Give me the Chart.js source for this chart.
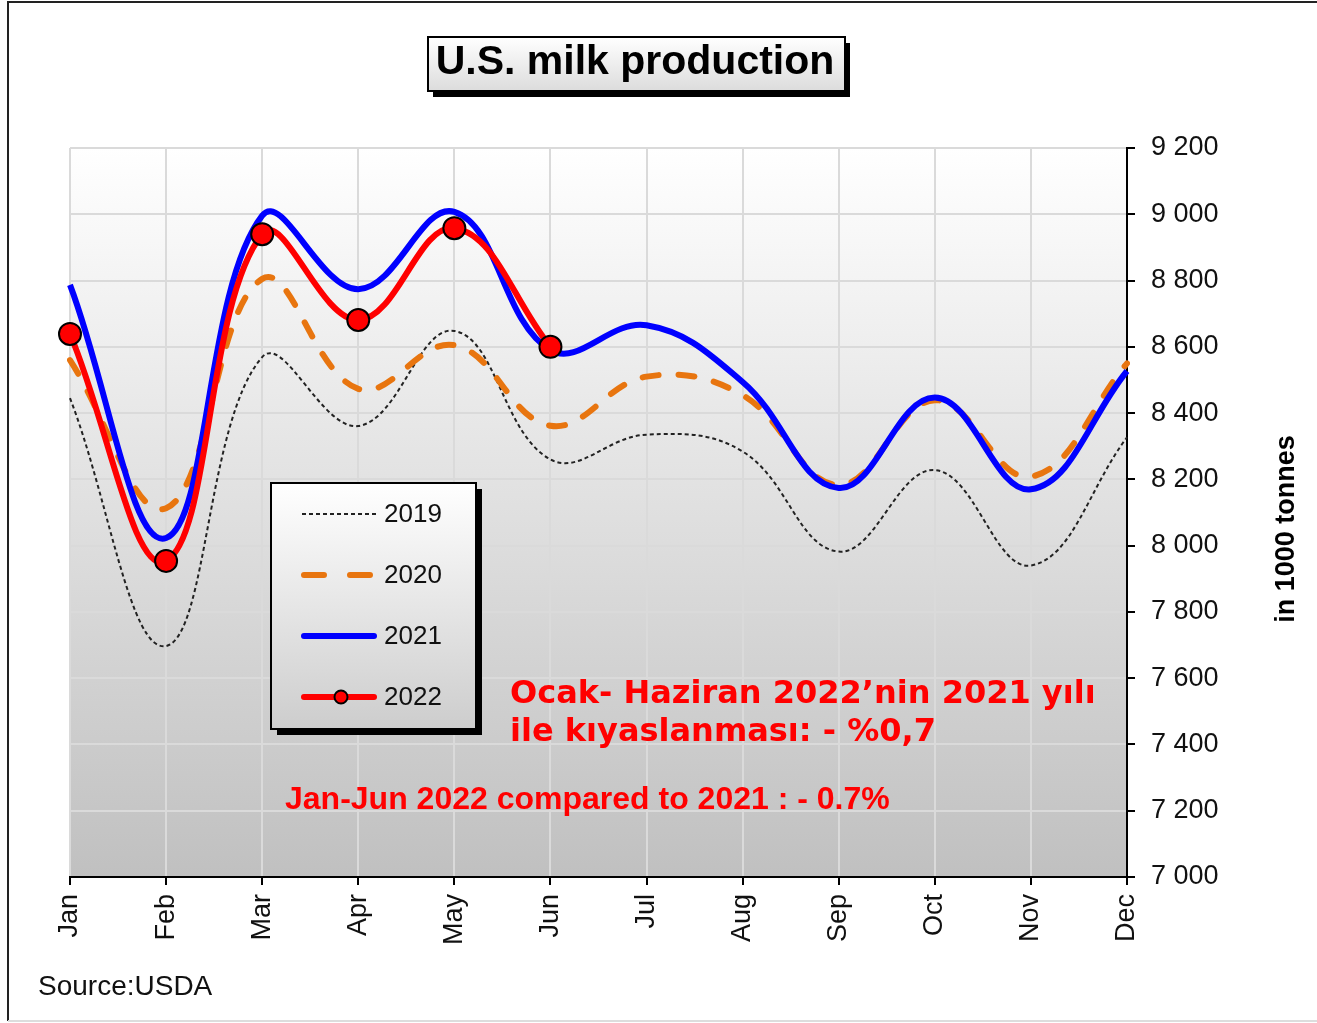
<!DOCTYPE html>
<html>
<head>
<meta charset="utf-8">
<script src="https://cdn.jsdelivr.net/npm/chart.js@4"></script>
<style>
  body { margin: 0; background: #fff; }
  canvas { display: block; }
</style>
</head>
<body>
<canvas id="milkChart" width="1317" height="1023"></canvas>
<script>
// values (1000 tonnes)
const months = ['Jan', 'Feb', 'Mar', 'Apr', 'May', 'Jun', 'Jul', 'Aug', 'Sep', 'Oct', 'Nov', 'Dec'];
const milk2019 = [8445, 7697, 8569, 8361, 8648, 8260, 8335, 8284, 7982, 8228, 7940, 8327];
const milk2020 = [8560, 8113, 8805, 8473, 8605, 8362, 8510, 8454, 8183, 8439, 8208, 8550];
const milk2021 = [8787, 8023, 8996, 8774, 9007, 8590, 8665, 8494, 8174, 8447, 8170, 8527];
const milk2022 = [8639, 7954, 8940, 8681, 8958, 8600];
const yTicks = [7000, 7200, 7400, 7600, 7800, 8000, 8200, 8400, 8600, 8800, 9000, 9200];

const FONT = '"Liberation Sans", Arial, sans-serif';

function spaced(v) {
  return String(v).replace(/\B(?=(\d{3})+(?!\d))/g, ' ');
}

const milkDecor = {
  id: 'milkDecor',
  beforeDraw(chart) {
    const ctx = chart.ctx;
    const a = chart.chartArea;
    ctx.save();
    ctx.fillStyle = '#fff';
    ctx.fillRect(0, 0, chart.width, chart.height);
    const g = ctx.createLinearGradient(0, a.top, 0, a.bottom);
    g.addColorStop(0, '#ffffff');
    g.addColorStop(1, '#c0c0c0');
    ctx.fillStyle = g;
    ctx.fillRect(a.left, a.top, a.right - a.left, a.bottom - a.top);
    ctx.restore();
  },
  afterDraw(chart) {
    const ctx = chart.ctx;
    ctx.save();

    // outer frame
    ctx.strokeStyle = '#222';
    ctx.lineWidth = 2;
    ctx.beginPath();
    ctx.moveTo(8, 1021); ctx.lineTo(8, 2); ctx.lineTo(1317, 2);
    ctx.stroke();
    ctx.strokeStyle = '#ddd';
    ctx.beginPath();
    ctx.moveTo(8, 1021); ctx.lineTo(1317, 1021);
    ctx.stroke();

    // title box
    ctx.fillStyle = '#000';
    ctx.fillRect(433, 43, 417, 54);
    let g = ctx.createLinearGradient(0, 37, 0, 91);
    g.addColorStop(0, '#ffffff');
    g.addColorStop(1, '#dcdcdc');
    ctx.fillStyle = g;
    ctx.fillRect(428, 37, 417, 54);
    ctx.strokeStyle = '#000';
    ctx.lineWidth = 2;
    ctx.strokeRect(428, 37, 417, 54);
    ctx.fillStyle = '#000';
    ctx.font = 'bold 41px ' + FONT;
    ctx.textAlign = 'center';
    ctx.textBaseline = 'middle';
    ctx.fillText('U.S. milk production', 635, 63);

    // y axis title, reads bottom to top
    ctx.save();
    ctx.translate(1287, 529);
    ctx.rotate(-Math.PI / 2);
    ctx.font = 'bold 27px ' + FONT;
    ctx.fillText('in 1000 tonnes', 0, 0);
    ctx.restore();

    // legend box
    ctx.fillStyle = '#000';
    ctx.fillRect(277, 489, 205, 246);
    g = ctx.createLinearGradient(0, 483, 0, 729);
    g.addColorStop(0, '#ffffff');
    g.addColorStop(1, '#cdcdcd');
    ctx.fillStyle = g;
    ctx.fillRect(271, 483, 205, 246);
    ctx.strokeStyle = '#000';
    ctx.lineWidth = 2;
    ctx.strokeRect(271, 483, 205, 246);

    const rows = [
      { label: '2019', y: 514, color: '#222', width: 2, dash: [4, 3], cap: 'butt' },
      { label: '2020', y: 575, color: '#e8750f', width: 6, dash: [20, 26], cap: 'round' },
      { label: '2021', y: 636, color: '#0000ff', width: 6, dash: [], cap: 'round' },
      { label: '2022', y: 697, color: '#ff0000', width: 6, dash: [], cap: 'round', dot: true }
    ];
    rows.forEach(r => {
      ctx.strokeStyle = r.color;
      ctx.lineWidth = r.width;
      ctx.lineCap = r.cap;
      ctx.setLineDash(r.dash);
      ctx.beginPath();
      ctx.moveTo(r.cap === 'round' ? 304 : 302, r.y);
      ctx.lineTo(r.cap === 'round' ? 374 : 376, r.y);
      ctx.stroke();
      ctx.setLineDash([]);
      if (r.dot) {
        ctx.beginPath();
        ctx.arc(341, r.y, 6.5, 0, Math.PI * 2);
        ctx.fillStyle = '#ff0000';
        ctx.fill();
        ctx.lineWidth = 2;
        ctx.strokeStyle = '#000';
        ctx.stroke();
      }
      ctx.fillStyle = '#111';
      ctx.font = '26px ' + FONT;
      ctx.textAlign = 'left';
      ctx.textBaseline = 'middle';
      ctx.fillText(r.label, 384, r.y + 1);
    });

    // notes
    ctx.fillStyle = '#ff0000';
    ctx.textAlign = 'left';
    ctx.textBaseline = 'middle';
    ctx.font = 'bold 32px "DejaVu Sans", Verdana, sans-serif';
    ctx.fillText('Ocak- Haziran 2022\u2019nin 2021 y\u0131l\u0131', 510, 695);
    ctx.fillText('ile k\u0131yaslanmas\u0131: - %0,7', 510, 733);
    ctx.font = 'bold 32px ' + FONT;
    ctx.fillText('Jan-Jun 2022 compared to 2021 : - 0.7%', 285, 800);

    // source
    ctx.fillStyle = '#111';
    ctx.font = '28px ' + FONT;
    ctx.fillText('Source:USDA', 38, 987);

    ctx.restore();
  }
};

const ctx_milk = document.getElementById('milkChart');

new Chart(ctx_milk, {
  type: 'line',
  data: {
    labels: months,
    datasets: [
      {
        label: '2019',
        data: milk2019,
        borderColor: '#222',
        borderWidth: 2,
        borderDash: [4, 3],
        pointRadius: 0,
        tension: 0.4,
        fill: false,
        order: 4
      },
      {
        label: '2020',
        data: milk2020,
        borderColor: '#e8750f',
        borderWidth: 6,
        borderDash: [16, 20],
        borderCapStyle: 'round',
        pointRadius: 0,
        tension: 0.4,
        fill: false,
        order: 3
      },
      {
        label: '2021',
        data: milk2021,
        borderColor: '#0000ff',
        borderWidth: 6,
        pointRadius: 0,
        tension: 0.4,
        fill: false,
        order: 2
      },
      {
        label: '2022',
        data: milk2022,
        borderColor: '#ff0000',
        borderWidth: 6,
        pointRadius: 11,
        pointBackgroundColor: '#ff0000',
        pointBorderColor: '#000',
        pointBorderWidth: 2,
        tension: 0.4,
        fill: false,
        order: 1
      }
    ]
  },
  options: {
    responsive: false,
    animation: false,
    devicePixelRatio: 1,
    layout: {
      padding: { left: 70, top: 148, right: 0, bottom: 0 }
    },
    plugins: {
      legend: { display: false },
      tooltip: { enabled: false }
    },
    scales: {
      x: {
        offset: false,
        grid: { color: '#dadada', lineWidth: 2, tickColor: '#000', tickLength: 8 },
        border: { color: '#000', width: 2 },
        ticks: {
          autoSkip: false,
          maxRotation: 90,
          minRotation: 90,
          padding: 9,
          color: '#111',
          font: { family: FONT, size: 27 }
        },
        afterFit: s => { s.height = 146; }
      },
      y: {
        position: 'right',
        min: yTicks[0],
        max: yTicks[yTicks.length - 1],
        afterBuildTicks: s => { s.ticks = yTicks.map(v => ({ value: v })); },
        grid: { color: '#dadada', lineWidth: 2, tickColor: '#000', tickLength: 8 },
        border: { color: '#000', width: 2 },
        ticks: {
          padding: 16,
          color: '#111',
          font: { family: FONT, size: 27 },
          callback: v => spaced(v)
        },
        afterFit: s => { s.width = 190; }
      }
    }
  },
  plugins: [milkDecor]
});
</script>
</body>
</html>
